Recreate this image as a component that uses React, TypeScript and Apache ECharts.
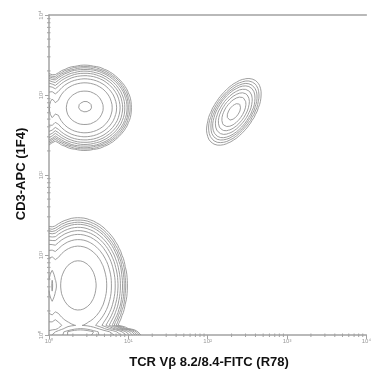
import React, { useEffect, useRef } from 'react';
import * as echarts from 'echarts';

// Axis decades (log10 units) and their labels
const decadeValues = [0, 1, 2, 3, 4];
const decadeLabels = ['10⁰', '10¹', '10²', '10³', '10⁴'];
const minorFactors = [2, 3, 4, 5, 6, 7, 8, 9];

// Cell populations, in log10 fluorescence units
const popNames = ['CD3+ Vβ-', 'CD3+ Vβ- core', 'CD3+ Vβ- on axis', 'CD3+ Vβ8.2/8.4+', 'CD3-', 'CD3- on axis', 'CD3 low pile-up'];
const popCenterX = [0.45, 0.46, 0.0, 2.33, 0.37, 0.0, 0.45];
const popCenterY = [2.84, 2.86, 2.82, 2.79, 0.62, 0.6, 0.0];
const popSpreadX = [0.41, 0.04, 0.08, 0.254, 0.43, 0.08, 0.5];
const popSpreadY = [0.37, 0.03, 0.33, 0.134, 0.59, 0.55, 0.09];
const popAngleDeg = [0, 0, 0, 55, 0, 0, 0];
const popShape = [4, 2, 4, 2, 4, 4, 4];
const popWeight = [1.0, 0.06, 0.35, 0.5, 0.97, 0.35, 0.8];

// Contour levels (relative density)
const contourLevels = [0.015, 0.025, 0.04, 0.06, 0.1, 0.16, 0.25, 0.4, 0.6, 0.9, 1.0];

const AXIS_MIN = 0;
const AXIS_MAX = 4;
const STEP = 0.04;

function density(x: number, y: number): number {
  let s = 0;
  for (let k = 0; k < popWeight.length; k++) {
    const a = (popAngleDeg[k] * Math.PI) / 180;
    const dx = x - popCenterX[k];
    const dy = y - popCenterY[k];
    const u = (dx * Math.cos(a) + dy * Math.sin(a)) / popSpreadX[k];
    const v = (-dx * Math.sin(a) + dy * Math.cos(a)) / popSpreadY[k];
    const r2 = u * u + v * v;
    s += popWeight[k] * Math.exp(-Math.pow(r2, popShape[k] / 2));
  }
  return s;
}

// marching-squares edge pairs for each corner case
const CASES: number[][][] = [
  [], [[3, 0]], [[0, 1]], [[3, 1]], [[1, 2]], [[3, 0], [1, 2]], [[0, 2]], [[2, 3]],
  [[2, 3]], [[0, 2]], [[0, 1], [2, 3]], [[1, 2]], [[3, 1]], [[0, 1]], [[3, 0]], [],
];

function buildContours(): number[][] {
  const n = Math.round((AXIS_MAX - AXIS_MIN) / STEP) + 1;
  const grid = new Float32Array(n * n);
  for (let j = 0; j < n; j++) {
    for (let i = 0; i < n; i++) {
      grid[j * n + i] = density(AXIS_MIN + i * STEP, AXIS_MIN + j * STEP);
    }
  }
  return contourLevels.map((L) => {
    const segs: number[] = [];
    for (let j = 0; j < n - 1; j++) {
      const y0 = AXIS_MIN + j * STEP;
      for (let i = 0; i < n - 1; i++) {
        const x0 = AXIS_MIN + i * STEP;
        const v0 = grid[j * n + i];
        const v1 = grid[j * n + i + 1];
        const v2 = grid[(j + 1) * n + i + 1];
        const v3 = grid[(j + 1) * n + i];
        const c = (v0 > L ? 1 : 0) | (v1 > L ? 2 : 0) | (v2 > L ? 4 : 0) | (v3 > L ? 8 : 0);
        if (c === 0 || c === 15) continue;
        const pt = (e: number): [number, number] => {
          if (e === 0) return [x0 + ((L - v0) / (v1 - v0)) * STEP, y0];
          if (e === 1) return [x0 + STEP, y0 + ((L - v1) / (v2 - v1)) * STEP];
          if (e === 2) return [x0 + ((L - v3) / (v2 - v3)) * STEP, y0 + STEP];
          return [x0, y0 + ((L - v0) / (v3 - v0)) * STEP];
        };
        for (const [ea, eb] of CASES[c]) {
          const a = pt(ea);
          const b = pt(eb);
          segs.push(a[0], a[1], b[0], b[1]);
        }
      }
    }
    return segs;
  });
}

const minorTickValues: number[] = [];
for (let d = 0; d < 4; d++) {
  for (const f of minorFactors) minorTickValues.push(d + Math.log10(f));
}

export default function App() {
  const ref = useRef<HTMLDivElement>(null);
  useEffect(() => {
    if (!ref.current) return;
    const chart = echarts.init(ref.current, null, { renderer: 'svg' });
    const contours = buildContours();
    const axisColor = '#a3a3a3';
    const font = "'Liberation Sans', Arial, sans-serif";

    chart.setOption({
      animation: false,
      grid: { left: 49, top: 15, width: 325, height: 320, containLabel: false },
      xAxis: [
        {
          type: 'value', min: AXIS_MIN, max: AXIS_MAX, interval: 1, position: 'bottom',
          axisLine: { show: true, lineStyle: { color: axisColor, width: 1.5 } },
          axisTick: { show: true, length: 4, lineStyle: { color: axisColor } },
          axisLabel: {
            formatter: (v: number) => decadeLabels[decadeValues.indexOf(v)] ?? '',
            fontSize: 6, color: '#999', margin: 3, fontFamily: font,
          },
          splitLine: { show: false },
        },
        {
          type: 'value', min: AXIS_MIN, max: AXIS_MAX, position: 'top',
          axisLine: { show: true, lineStyle: { color: axisColor, width: 1.5 } },
          axisTick: { show: false }, axisLabel: { show: false }, splitLine: { show: false },
        },
      ],
      yAxis: [
        {
          type: 'value', min: AXIS_MIN, max: AXIS_MAX, interval: 1, position: 'left',
          axisLine: { show: true, lineStyle: { color: axisColor, width: 1.5 } },
          axisTick: { show: true, length: 4, lineStyle: { color: axisColor } },
          axisLabel: {
            formatter: (v: number) => decadeLabels[decadeValues.indexOf(v)] ?? '',
            fontSize: 6, color: '#999', margin: 5, rotate: 90, fontFamily: font,
          },
          splitLine: { show: false },
        },
      ],
      series: [
        {
          type: 'custom',
          name: 'contours',
          coordinateSystem: 'cartesian2d',
          xAxisIndex: 0,
          yAxisIndex: 0,
          silent: true,
          data: contourLevels.map(() => [0, 0]),
          renderItem: (params: any, api: any) => {
            const segs = contours[params.dataIndex];
            let d = '';
            for (let k = 0; k < segs.length; k += 4) {
              const a = api.coord([segs[k], segs[k + 1]]);
              const b = api.coord([segs[k + 2], segs[k + 3]]);
              d += `M${a[0].toFixed(1)} ${a[1].toFixed(1)}L${b[0].toFixed(1)} ${b[1].toFixed(1)}`;
            }
            return {
              type: 'path',
              shape: { pathData: d || 'M0 0' },
              style: { fill: 'none', stroke: '#8c8c8c', lineWidth: 0.85 },
            };
          },
        },
        {
          type: 'custom',
          name: 'minor ticks',
          coordinateSystem: 'cartesian2d',
          silent: true,
          data: [
            ...minorTickValues.map((v) => [v, 0, 0]),
            ...minorTickValues.map((v) => [0, v, 1]),
          ],
          renderItem: (params: any, api: any) => {
            const onY = api.value(2) === 1;
            const p = api.coord([api.value(0), api.value(1)]);
            const shape = onY
              ? { x1: p[0] - 2, y1: p[1], x2: p[0] + 1.5, y2: p[1] }
              : { x1: p[0], y1: p[1] - 1.5, x2: p[0], y2: p[1] + 2 };
            return { type: 'line', shape, style: { stroke: axisColor, lineWidth: 1 } };
          },
        },
      ],
      graphic: [
        {
          type: 'text', x: 209, y: 361,
          style: {
            text: 'TCR Vβ 8.2/8.4-FITC (R78)', font: `bold 13px ${font}`,
            fill: '#111', textAlign: 'center', textVerticalAlign: 'middle',
          },
        },
        {
          type: 'text', x: 20, y: 174, rotation: Math.PI / 2,
          style: {
            text: 'CD3-APC (1F4)', font: `bold 13px ${font}`,
            fill: '#111', textAlign: 'center', textVerticalAlign: 'middle',
          },
        },
      ],
    });
    return () => chart.dispose();
  }, []);
  return <div ref={ref} style={{ position: 'fixed', left: 0, top: 0, width: 374, height: 371 }} />;
}
